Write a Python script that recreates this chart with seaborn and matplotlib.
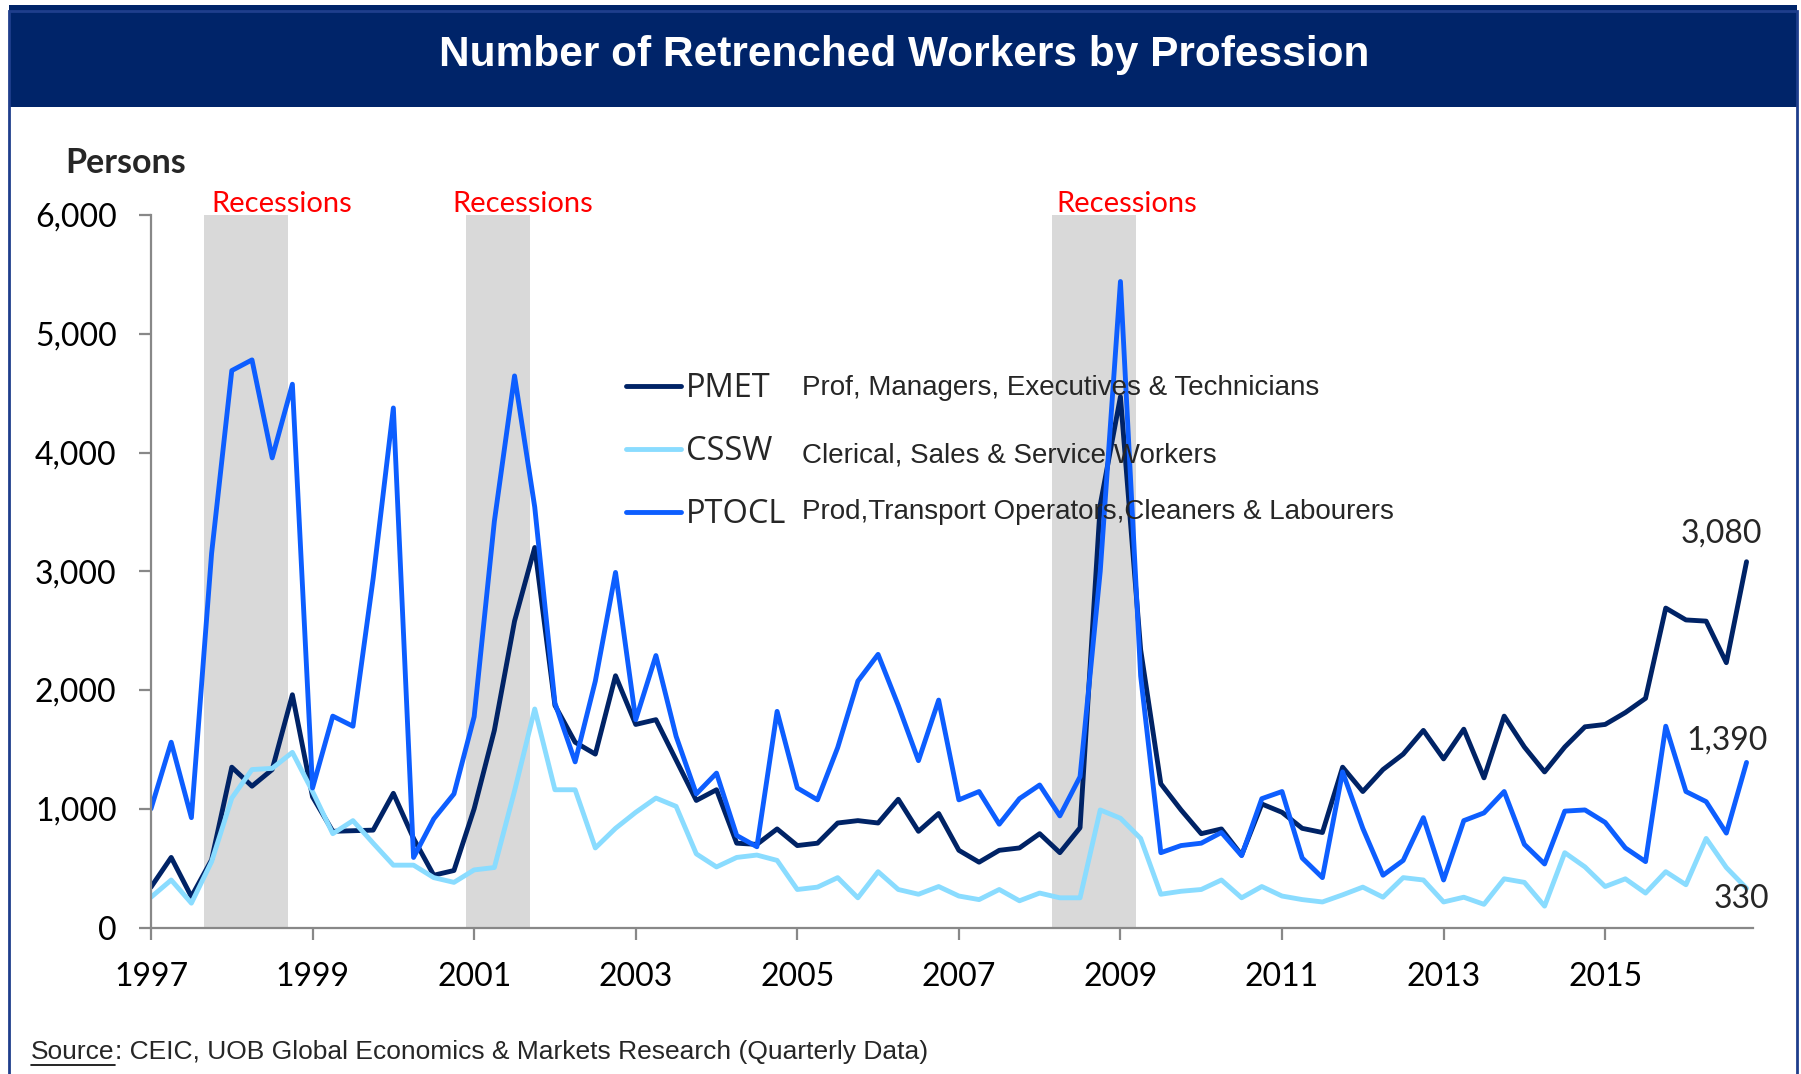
import numpy as np
import pandas as pd
import matplotlib
matplotlib.use("Agg")
import matplotlib.pyplot as plt
import seaborn as sns
from matplotlib.patches import Rectangle
from matplotlib.lines import Line2D

# ---------------- data ----------------
quarters = pd.period_range("1997Q1", periods=80, freq="Q")

pmet = [340, 590, 260, 570, 1350, 1190, 1330, 1960,
        1100, 810, 815, 820, 1130, 750, 440, 480,
        1000, 1660, 2580, 3200, 1870, 1560, 1460, 2120,
        1710, 1750, 1410, 1070, 1160, 710, 700, 830,
        690, 710, 880, 900, 880, 1080, 810, 960,
        650, 550, 650, 670, 790, 630, 840, 3560,
        4470, 2340, 1210, 990, 790, 830, 610, 1040,
        970, 835, 800, 1350, 1145, 1330, 1460, 1660,
        1420, 1670, 1260, 1780, 1520, 1310, 1520, 1690,
        1710, 1810, 1930, 2690, 2590, 2580, 2230, 3080]

cssw = [255, 400, 205, 555, 1090, 1330, 1340, 1475,
        1145, 790, 900, 710, 525, 525, 420, 380,
        485, 505, 1150, 1840, 1160, 1160, 670, 835,
        970, 1090, 1020, 620, 510, 590, 610, 565,
        320, 340, 420, 250, 470, 320, 280, 345,
        265, 235, 320, 225, 290, 250, 250, 990,
        920, 750, 280, 305, 320, 400, 250, 345,
        265, 235, 215, 275, 340, 255, 420, 400,
        215, 255, 195, 410, 380, 180, 630, 510,
        345, 410, 290, 470, 360, 750, 505, 330]

ptocl = [1000, 1560, 925, 3150, 4690, 4780, 3955, 4575,
         1175, 1780, 1695, 2940, 4375, 590, 915, 1125,
         1775, 3420, 4645, 3540, 1890, 1395, 2075, 2990,
         1750, 2290, 1610, 1125, 1300, 775, 680, 1820,
         1175, 1075, 1515, 2075, 2300, 1870, 1405, 1915,
         1075, 1145, 870, 1085, 1200, 940, 1270, 3000,
         5440, 2120, 630, 690, 710, 800, 605, 1085,
         1145, 585, 420, 1310, 835, 440, 565, 925,
         400, 900, 965, 1145, 700, 535, 980, 990,
         885, 670, 555, 1695, 1145, 1060, 795, 1390]

series_names = ["PMET", "CSSW", "PTOCL"]
series_desc = ["Prof, Managers, Executives & Technicians",
               "Clerical, Sales & Service Workers",
               "Prod,Transport Operators,Cleaners & Labourers"]
series_colors = ["#002366", "#8ADCFF", "#0D5EFF"]

recession_start = [1997.65, 2000.90, 2008.15]
recession_end = [1998.69, 2001.69, 2009.19]
recession_label_x = [1998.62, 2001.60, 2009.08]

year_ticks = list(range(1997, 2016, 2))
y_ticks = [0, 1000, 2000, 3000, 4000, 5000, 6000]
end_labels = ["3,080", "330", "1,390"]

# ---------------- build frame ----------------
xvals = quarters.year + (quarters.quarter - 1) / 4.0
df = pd.DataFrame({"x": np.tile(xvals, 3),
                   "value": pmet + cssw + ptocl,
                   "series": np.repeat(series_names, len(quarters))})

sns.set_theme(style="white")
plt.rcParams["font.family"] = ["Lato", "DejaVu Sans"]

W, H = 1801, 1074
fig = plt.figure(figsize=(W / 100, H / 100), dpi=100)
fig.patch.set_facecolor("white")

ax = fig.add_axes([151 / W, 1 - 927.5 / H, (1753 - 151) / W, (927.5 - 215) / H])

for s, e, lx in zip(recession_start, recession_end, recession_label_x):
    ax.axvspan(s, e, color="#D9D9D9", lw=0, zorder=0)
    ax.text(lx, 6028, "Recessions", color="#FF0000",
            ha="center", va="baseline", fontsize=21, family="Lato")

sns.lineplot(data=df, x="x", y="value", hue="series", hue_order=series_names,
             palette=series_colors, linewidth=3.5, ax=ax, legend=False,
             estimator=None, sort=False)

ax.set_xlim(1997, 2016.83)
ax.set_ylim(0, 6000)
ax.set_xticks(year_ticks)
ax.set_xticklabels([str(y) for y in year_ticks])
ax.set_yticks(y_ticks)
ax.set_yticklabels([f"{v:,}" for v in y_ticks])
ax.tick_params(axis="both", labelsize=23, colors="#888888", labelcolor="black",
               length=8.3, width=1.6, direction="out", bottom=True, left=True)
ax.tick_params(axis="x", pad=16.5)
ax.tick_params(axis="y", pad=16.5)
for side in ["top", "right"]:
    ax.spines[side].set_visible(False)
for side in ["left", "bottom"]:
    ax.spines[side].set_color("#888888")
    ax.spines[side].set_linewidth(1.6)
ax.set_xlabel("")
ax.set_ylabel("")
ax.set_facecolor("none")

# end labels
last_x = xvals[-1]
ax.annotate(end_labels[0], (last_x, pmet[-1]), xytext=(-18, 20), textcoords="offset points",
            ha="center", va="center", fontsize=23)
ax.annotate(end_labels[2], (last_x, ptocl[-1]), xytext=(-14, 16), textcoords="offset points",
            ha="center", va="center", fontsize=23)
ax.annotate(end_labels[1], (last_x, cssw[-1]), xytext=(-4, -8), textcoords="offset points",
            ha="center", va="center", fontsize=23)

# legend
handles = [Line2D([], [], color=c, lw=3.5) for c in series_colors]
leg_font = {"family": "Open Sans", "size": 23.5}
fs_px = 23.5 * 100 / 72


def make_legend(ls, top):
    return ax.legend(handles, series_names, loc="upper left",
                     bbox_to_anchor=(626 / W, 1 - top / H),
                     bbox_transform=fig.transFigure, frameon=False,
                     handlelength=55 / fs_px, handletextpad=5 / fs_px,
                     labelspacing=ls, borderpad=0, borderaxespad=0, prop=leg_font)


ls = 0.9
top = 366
leg = make_legend(ls, top)
fig.canvas.draw()
for _ in range(2):
    lines = leg.get_lines()
    ys = [H - ln.get_window_extent().y0 for ln in lines]
    spacing = (ys[2] - ys[0]) / 2
    ls = ls + (63 - spacing) / fs_px
    top = top + (386 - ys[0])
    leg = make_legend(ls, top)
    fig.canvas.draw()

desc_y = [388, 456, 512]
for d, yy in zip(series_desc, desc_y):
    fig.text(802 / W, 1 - yy / H, d, fontsize=20, family="Liberation Sans",
             va="center", ha="left")

# banner and frame
fig.patches.append(Rectangle((0.005, 1 - 107 / H), 0.993, 107 / H - 0.005,
                             transform=fig.transFigure, facecolor="#002469",
                             edgecolor="none", zorder=-1))
fig.patches.append(Rectangle((0.005, -0.01), 0.993, 1.0, transform=fig.transFigure,
                             facecolor="none", edgecolor="#1F3E8C", lw=2, zorder=-1))
fig.text(904 / W, 1 - 55 / H, "Number of Retrenched Workers by Profession",
         color="white", fontsize=30.5, fontweight="bold", family="Liberation Sans",
         ha="center", va="center")

fig.text(65 / W, 1 - 163 / H, "Persons", fontsize=24.5, fontweight="bold",
         family="Lato", ha="left", va="center")

src = fig.text(31 / W, 1 - 1052 / H, "Source", fontsize=19, family="Liberation Sans",
               ha="left", va="center")
fig.canvas.draw()
bb = src.get_window_extent()
fig.text(bb.x1 / W, 1 - 1052 / H, ": CEIC, UOB Global Economics & Markets Research (Quarterly Data)",
         fontsize=19, family="Liberation Sans", ha="left", va="center")
yline = (bb.y0 - 1) / H
fig.lines.append(Line2D([bb.x0 / W, bb.x1 / W], [yline, yline], transform=fig.transFigure,
                        color="black", lw=1.2))

fig.savefig("out.png", dpi=100)
